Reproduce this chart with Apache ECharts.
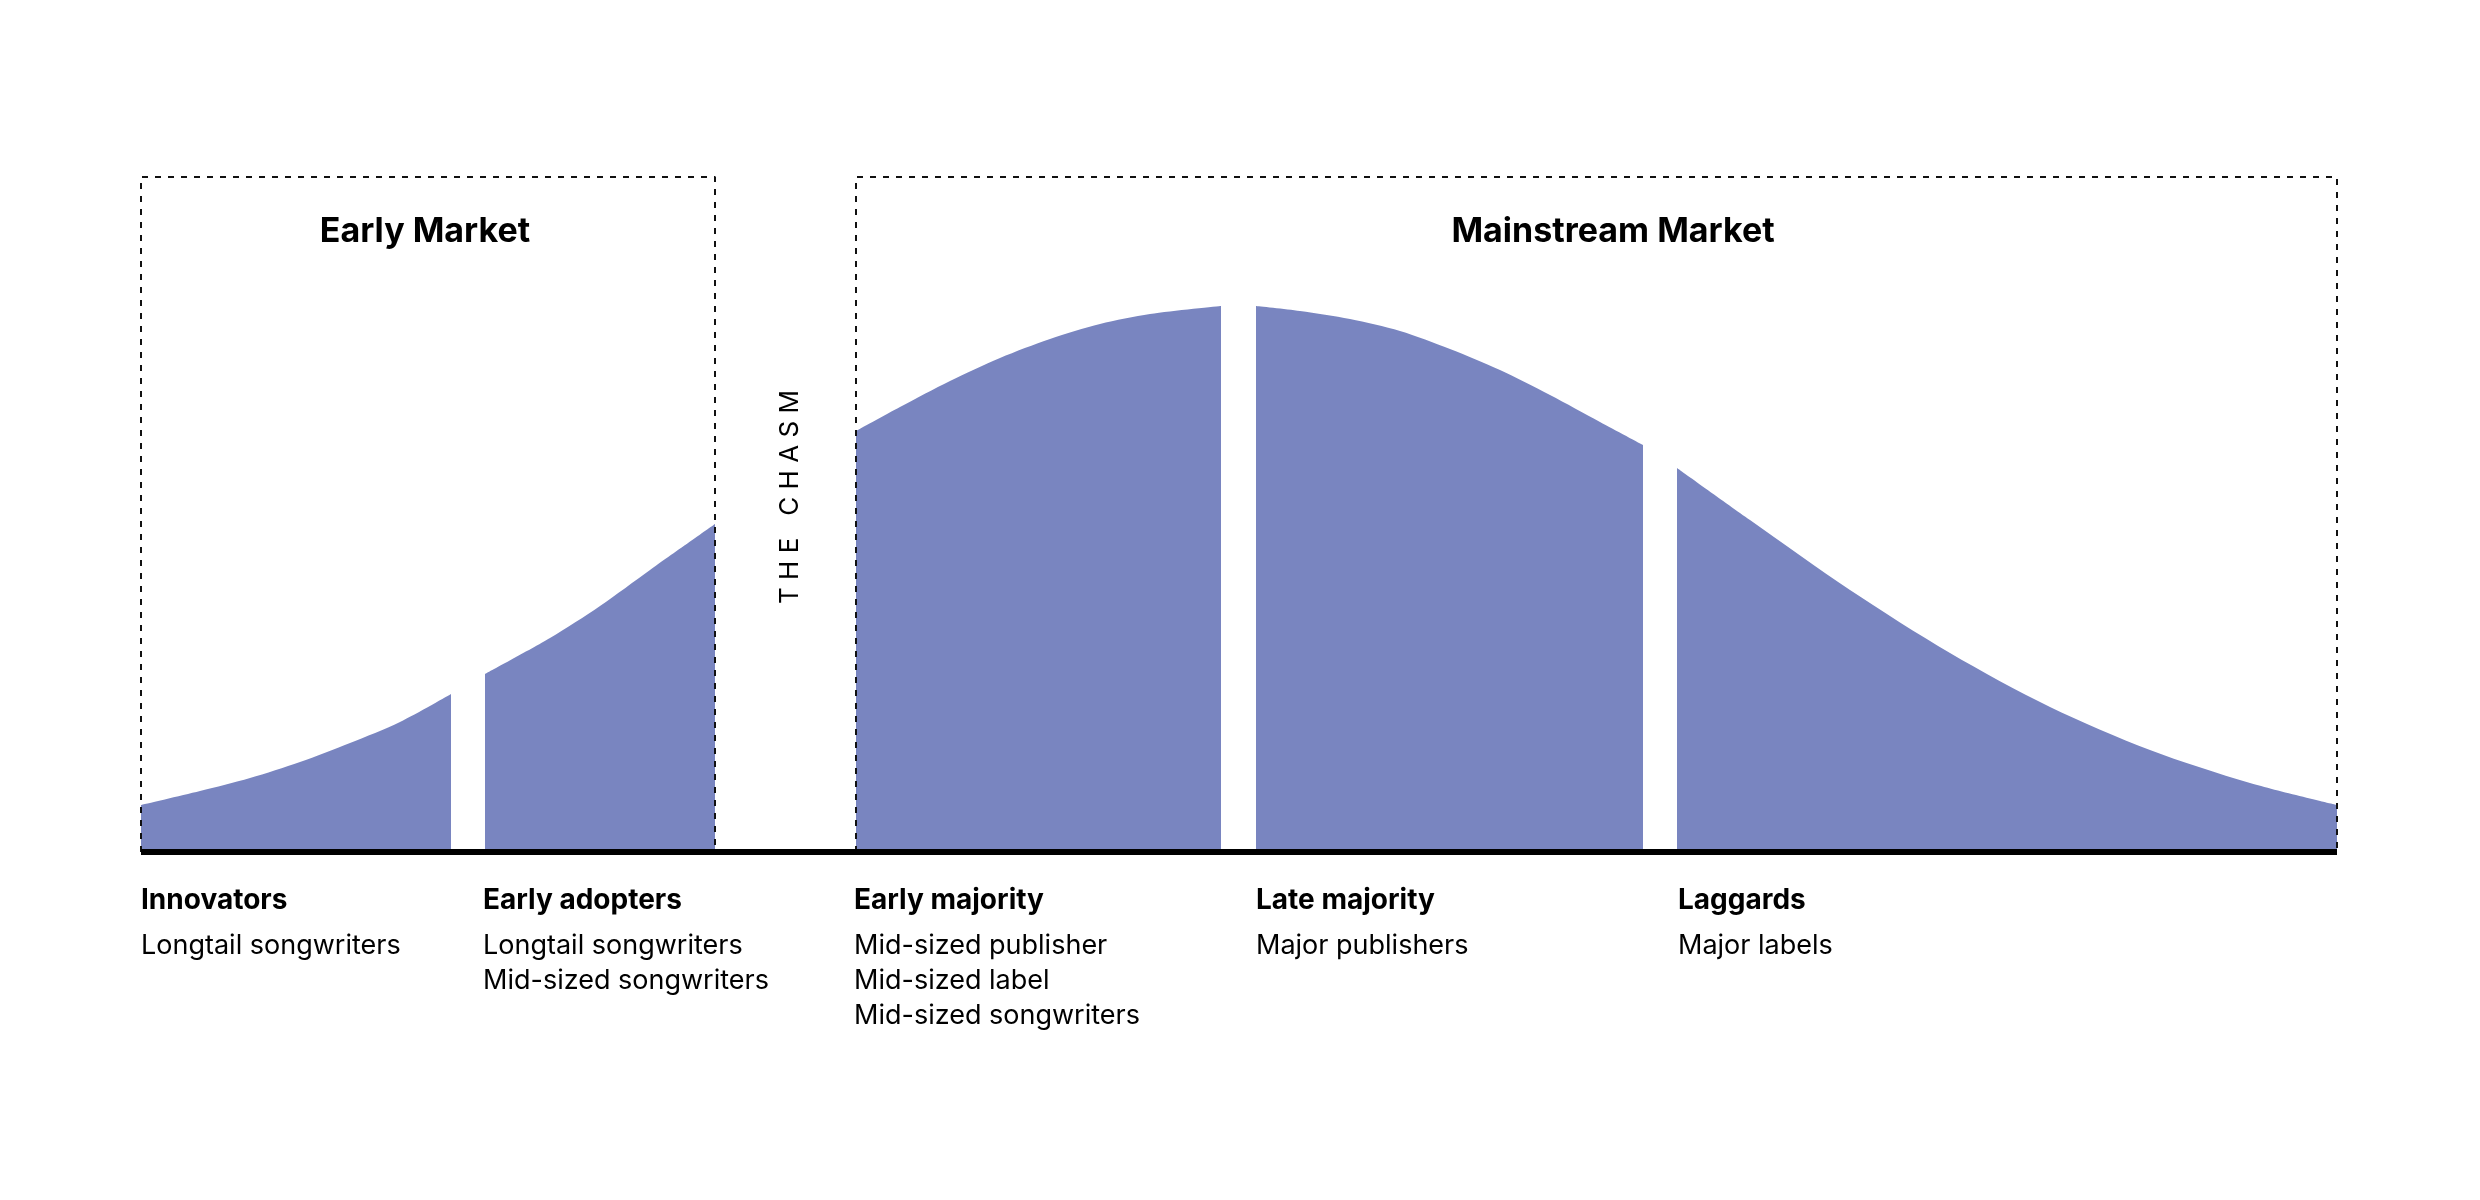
<!DOCTYPE html>
<html><head><meta charset="utf-8">
<script src="https://cdn.jsdelivr.net/npm/echarts@6/dist/echarts.min.js"></script>
<style>html,body{margin:0;padding:0;background:#fff}#c{width:2480px;height:1200px}</style>
</head><body><div id="c"></div>
<script>
// Segments: x positions and curve heights
const innovatorsX = [141,200,250,300,350,400,451];
const innovatorsY = [47,61,74,90,109,130,158];
const adoptersX = [485,550,600,650,715];
const adoptersY = [178,214,246,282,328];
const earlyMajX = [856,900,950,1000,1050,1100,1150,1221];
const earlyMajY = [421,445,471,494,513,528,538,546];
const lateMajX = [1256,1300,1350,1400,1450,1500,1550,1600,1643];
const lateMajY = [546,541,533,521,503,482,457,430,407];
const laggardsX = [1677,1750,1850,1950,2050,2150,2250,2337];
const laggardsY = [384,332,262,199,145,102,69,47];

const groupNames = ['Innovators','Early adopters','Early majority','Late majority','Laggards'];
const groupDesc = [['Longtail songwriters'],['Longtail songwriters','Mid-sized songwriters'],['Mid-sized publisher','Mid-sized label','Mid-sized songwriters'],['Major publishers'],['Major labels']];
const marketNames = ['Early Market','Mainstream Market'];
const marketSpans = [[141,715],[856,2337]];
const boxTop = 675;
const chasmText = 'T H E   C H A S M';

const FILL = '#7985C0';
const segs = [[innovatorsX,innovatorsY],[adoptersX,adoptersY],[earlyMajX,earlyMajY],[lateMajX,lateMajY],[laggardsX,laggardsY]];
const series = [];
segs.forEach(([xs,ys])=>{
  const d = xs.map((x,i)=>[x,ys[i]]);
  series.push({type:'line',data:d,smooth:0.3,showSymbol:false,lineStyle:{width:0},areaStyle:{color:FILL,opacity:1,origin:'start'},z:2,silent:true});
});
marketSpans.forEach(([a,b])=>{
  series.push({type:'line',data:[[a,0],[a,boxTop],[b,boxTop],[b,0]],showSymbol:false,
    lineStyle:{color:'#111',width:2,type:[6,7]},z:3,silent:true});
});
series.push({type:'line',data:[[141,0],[2337,0]],showSymbol:false,lineStyle:{color:'#000',width:6},z:4,silent:true});

const chart = echarts.init(document.getElementById('c'));
chart.setOption({
  animation:false,
  grid:{left:0,right:0,top:0,bottom:348},
  xAxis:{type:'value',min:0,max:2480,show:false},
  yAxis:{type:'value',min:0,max:852,show:false},
  series
});
const font='Inter, "Noto Sans", sans-serif';
const g=[];
const px=(x,y)=>chart.convertToPixel({gridIndex:0},[x,y]);
marketNames.forEach((n,i)=>{
  const p=px(i===0?425:1613,620);
  g.push({type:'text',x:p[0],y:p[1],style:{text:n,font:'bold 34px '+font,fill:'#000',align:'center',verticalAlign:'middle'}});
});
const labelX=[141,483,854,1256,1678];
groupNames.forEach((n,i)=>{
  const p=px(labelX[i],0);
  g.push({type:'text',x:p[0],y:p[1]+49,style:{text:n,font:'bold 28px '+font,fill:'#000',verticalAlign:'middle'}});
  groupDesc[i].forEach((t,j)=>{
    g.push({type:'text',x:p[0],y:p[1]+94+j*35,style:{text:t,font:'27px '+font,fill:'#000',verticalAlign:'middle'}});
  });
});
const cp=px(790,355);
g.push({type:'text',x:cp[0],y:cp[1],rotation:Math.PI/2,style:{text:chasmText,font:'26px '+font,fill:'#000',align:'center',verticalAlign:'middle'}});
chart.setOption({graphic:g});
</script></body></html>
